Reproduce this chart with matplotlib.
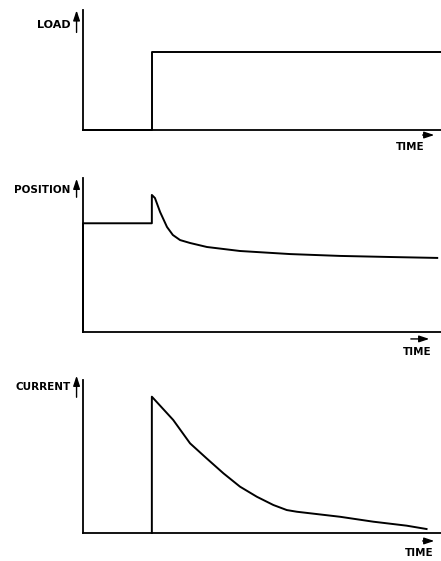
import numpy as np
import matplotlib
matplotlib.use("Agg")
import matplotlib.pyplot as plt

# time axis in arbitrary units, load step applied at t = 2
t_end = 10.4
t_step = 2.0

load_t = [0.0, t_step, t_step, t_end]
load_v = [0.0, 0.0, 0.65, 0.65]

pos_t = [0.0, 0.0, 2.0, 2.0, 2.09, 2.24, 2.44, 2.61, 2.82, 3.11, 3.6,
         4.56, 6.02, 7.47, 8.92, 10.29]
pos_v = [0.0, 0.706, 0.706, 0.89, 0.870, 0.779, 0.682, 0.630, 0.597, 0.578, 0.552,
         0.526, 0.506, 0.494, 0.487, 0.481]

cur_t = [2.0, 2.0, 2.62, 3.11, 3.59, 4.08, 4.56, 5.05, 5.53, 5.92, 6.21,
         7.47, 8.43, 9.40, 9.98]
cur_v = [0.0, 0.891, 0.739, 0.586, 0.488, 0.390, 0.303, 0.237, 0.183, 0.150, 0.139,
         0.106, 0.074, 0.048, 0.026]

labels = ["LOAD", "POSITION", "CURRENT"]

W, H = 441, 561
fig = plt.figure(figsize=(W / 100, H / 100), dpi=100)

# (bottom px, top px) of each panel axis
panels = [(130, 10), (332, 178), (533, 380)]
left_px = 83

# label / arrow placement in axes fraction
label_y = [0.875, 0.922, 0.954]
arrow_y = [(0.79, 1.02), (0.857, 1.013), (0.869, 1.046)]
time_txt = [(0.913, -0.142), (0.933, -0.13), (0.939, -0.131)]
time_arr = [(0.941, 0.989, -0.042), (0.908, 0.975, -0.045), (0.941, 0.989, -0.052)]

series = [(load_t, load_v), (pos_t, pos_v), (cur_t, cur_v)]

for i, (bot, top) in enumerate(panels):
    ax = fig.add_axes([left_px / W, 1 - bot / H, (W - left_px) / W, (bot - top) / H])
    ax.set_xlim(0, t_end)
    ax.set_ylim(0, 1)
    for s in ["top", "right"]:
        ax.spines[s].set_visible(False)
    for s in ["left", "bottom"]:
        ax.spines[s].set_linewidth(1.3)
        ax.spines[s].set_color("black")
    ax.set_xticks([])
    ax.set_yticks([])

    x, y = series[i]
    ax.plot(x, y, color="black", lw=1.4, clip_on=False, solid_joinstyle="round")

    # y label with small upward arrow
    ax.annotate("", xy=(-0.018, arrow_y[i][1]), xytext=(-0.018, arrow_y[i][0]),
                xycoords="axes fraction",
                arrowprops=dict(arrowstyle="-|>,head_length=0.6,head_width=0.2",
                                color="black", lw=1.0))
    ax.text(-0.034, label_y[i], labels[i], transform=ax.transAxes,
            ha="right", va="center", fontsize=8 if i == 0 else 7.5, fontweight="bold",
            family="DejaVu Sans Condensed" if i else "DejaVu Sans")

    # TIME with arrow to the right
    x0, x1, ya = time_arr[i]
    ax.annotate("", xy=(x1, ya), xytext=(x0, ya), xycoords="axes fraction",
                arrowprops=dict(arrowstyle="-|>,head_length=0.6,head_width=0.2",
                                color="black", lw=1.0))
    ax.text(time_txt[i][0], time_txt[i][1], "TIME", transform=ax.transAxes,
            ha="center", va="center", fontsize=7.5, fontweight="bold")

fig.savefig("out.png", dpi=100)
